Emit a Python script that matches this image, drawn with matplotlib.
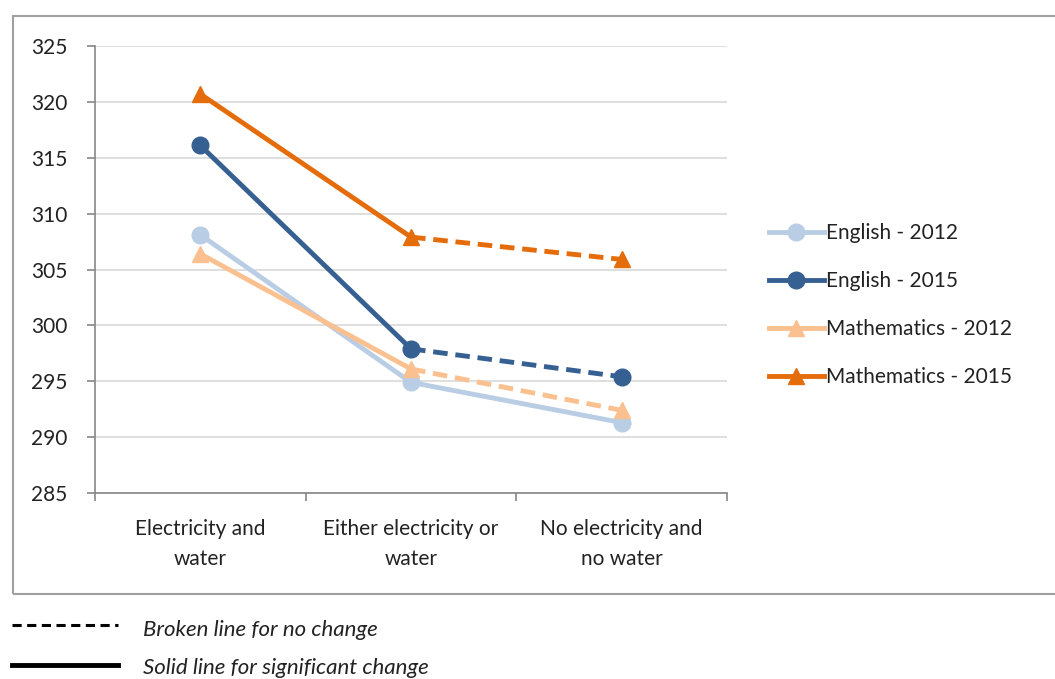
import matplotlib.pyplot as plt
from matplotlib.lines import Line2D
from matplotlib.patches import Rectangle
import numpy as np

plt.rcParams['font.family'] = ['Lato', 'DejaVu Sans']

# Scores by access to electricity and water
categories = ['Electricity and\nwater', 'Either electricity or\nwater', 'No electricity and\nno water']
english_2012 = [308.1, 294.9, 291.3]
english_2015 = [316.1, 297.9, 295.4]
maths_2012 = [306.4, 296.1, 292.4]
maths_2015 = [320.7, 307.9, 305.9]

# True where the change between neighbouring categories is significant
english_2012_sig = [True, True]
english_2015_sig = [True, False]
maths_2012_sig = [True, False]
maths_2015_sig = [True, False]

series = [
    ('English - 2012', english_2012, english_2012_sig, '#B9CDE5', 'o'),
    ('English - 2015', english_2015, english_2015_sig, '#376092', 'o'),
    ('Mathematics - 2012', maths_2012, maths_2012_sig, '#FAC090', '^'),
    ('Mathematics - 2015', maths_2015, maths_2015_sig, '#E46C0A', '^'),
]

fig = plt.figure(figsize=(10.55, 6.79), dpi=100)
ax = fig.add_axes([95/1055, 1 - 493/679, 632/1055, 447/679])

x = np.arange(len(categories))
handles = []
for name, vals, sig, color, marker in series:
    for i in range(len(vals) - 1):
        ls = '-' if sig[i] else (0, (3, 1.6))
        ax.plot(x[i:i+2], vals[i:i+2], color=color, lw=3.5, linestyle=ls,
                solid_capstyle='butt', dash_capstyle='butt', zorder=3)
    ax.plot(x, vals, linestyle='none', marker=marker, markersize=12,
            color=color, zorder=4)
    handles.append(Line2D([], [], color=color, lw=3.5, marker=marker,
                          markersize=12, label=name))

ax.set_xlim(-0.5, 2.5)
ax.set_ylim(285, 325)
ax.set_yticks(np.arange(285, 326, 5))
ax.yaxis.grid(True, color='#D9D9D9', lw=1.2)
ax.set_axisbelow(True)

ax.set_xticks(x)
ax.set_xticklabels(categories, fontsize=15, color='#222222', linespacing=1.6)
ax.set_xticks([-0.5, 0.5, 1.5, 2.5], minor=True)
ax.tick_params(axis='x', which='major', length=0, pad=19)
ax.tick_params(axis='x', which='minor', length=6, color='#868686', width=1.2)
ax.tick_params(axis='y', length=6, color='#868686', width=1.2,
               labelsize=15, labelcolor='#222222', pad=14)

for side in ['top', 'right']:
    ax.spines[side].set_visible(False)
for side in ['left', 'bottom']:
    ax.spines[side].set_color('#868686')
    ax.spines[side].set_linewidth(1.2)

fig.legend(handles=handles, loc='center left',
           bbox_to_anchor=(750/1055, 1 - 305/679), frameon=False,
           fontsize=15, handlelength=2.65, handletextpad=0.1,
           labelspacing=1.35, labelcolor='#222222')

# outer frame around the chart
fig.add_artist(Rectangle((13/1055, 1 - 594/679), 1.2, 578/679,
                         transform=fig.transFigure, fill=False,
                         edgecolor='#A0A0A0', lw=1.5))

# key for line styles
fig.add_artist(Line2D([12/1055, 118/1055], [1 - 625/679] * 2,
                      transform=fig.transFigure, color='black', lw=2.2,
                      linestyle=(0, (3, 1.8))))
fig.add_artist(Line2D([12/1055, 118/1055], [1 - 665/679] * 2,
                      transform=fig.transFigure, color='black', lw=3.5))
fig.text(143/1055, 1 - 630/679, 'Broken line for no change', fontsize=16,
         style='italic', va='center', color='#222222')
fig.text(143/1055, 1 - 668/679, 'Solid line for significant change',
         fontsize=16, style='italic', va='center', color='#222222')

fig.savefig('out.png', dpi=100)
